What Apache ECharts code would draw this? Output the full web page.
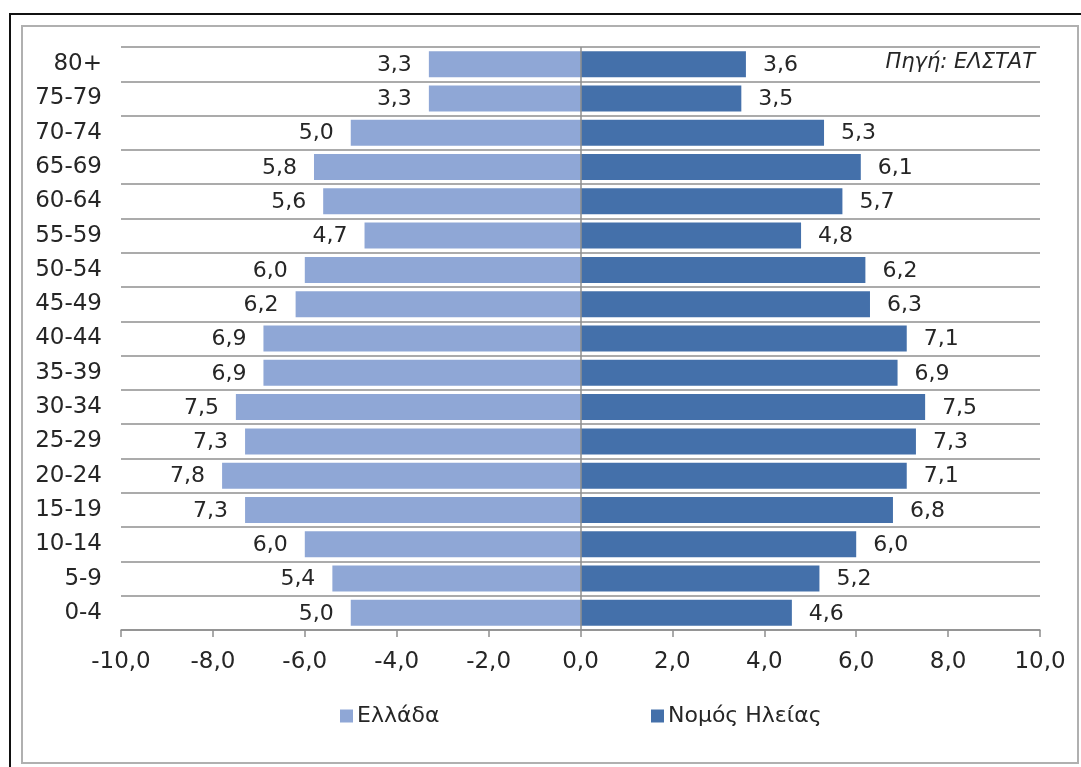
<!DOCTYPE html>
<html>
<head>
<meta charset="utf-8">
<script src="https://cdn.jsdelivr.net/npm/echarts@6/dist/echarts.min.js"></script>
<style>
html,body{margin:0;padding:0;background:#fff;}
#chart{width:1081px;height:767px;}
</style>
</head>
<body>
<div id="chart"></div>
<script>
const categories = ['0-4','5-9','10-14','15-19','20-24','25-29','30-34','35-39','40-44','45-49','50-54','55-59','60-64','65-69','70-74','75-79','80+'];
const greece = [5.0,5.4,6.0,7.3,7.8,7.3,7.5,6.9,6.9,6.2,6.0,4.7,5.6,5.8,5.0,3.3,3.3];
const ilia = [4.6,5.2,6.0,6.8,7.1,7.3,7.5,6.9,7.1,6.3,6.2,4.8,5.7,6.1,5.3,3.5,3.6];
const xTicks = [-10,-8,-6,-4,-2,0,2,4,6,8,10];
const seriesNames = ['Ελλάδα','Νομός Ηλείας'];
const sourceText = 'Πηγή: ΕΛΣΤΑΤ';

const fmt = v => Math.abs(v).toFixed(1).replace('.', ',');
const FONT = '"DejaVu Sans", Verdana, sans-serif';
const TXT = '#262626';
const GRID = '#8f8f8f';

const chart = echarts.init(document.getElementById('chart'));
chart.setOption({
  backgroundColor: '#ffffff',
  animation: false,
  textStyle: { fontFamily: FONT },
  grid: { left: 121, right: 41, top: 47, bottom: 137, containLabel: false },
  graphic: [
    { type: 'rect', shape: { x: 10, y: 14, width: 1090, height: 780 }, style: { fill: 'none', stroke: '#111', lineWidth: 2 }, silent: true },
    { type: 'rect', shape: { x: 22, y: 26, width: 1056, height: 737 }, style: { fill: 'none', stroke: '#b0b0b0', lineWidth: 2 }, silent: true },
    { type: 'text', right: 46, top: 52, style: { text: sourceText, font: 'italic 21px ' + FONT, fill: TXT }, silent: true }
  ],
  legend: [
    { data: [seriesNames[0]], left: 335, top: 700, itemWidth: 13, itemHeight: 13, itemGap: 4,
      textStyle: { fontSize: 22, color: TXT, fontFamily: FONT, padding: [0,0,0,-1] }, icon: 'rect' },
    { data: [seriesNames[1]], left: 646, top: 700, itemWidth: 13, itemHeight: 13, itemGap: 4,
      textStyle: { fontSize: 22, color: TXT, fontFamily: FONT, padding: [0,0,0,-1] }, icon: 'rect' }
  ],
  xAxis: {
    type: 'value', min: xTicks[0], max: xTicks[xTicks.length-1], interval: 2,
    axisLine: { show: true, lineStyle: { color: GRID, width: 1.5 } },
    axisTick: { show: true, length: 7, lineStyle: { color: GRID, width: 1.5 } },
    splitLine: { show: false },
    axisLabel: { formatter: v => v.toFixed(1).replace('.', ','), fontSize: 23, color: TXT, margin: 21, fontFamily: FONT }
  },
  yAxis: {
    type: 'category', data: categories,
    axisLine: { show: false }, axisTick: { show: false },
    splitLine: { show: true, lineStyle: { color: GRID, width: 1.5 } },
    axisLabel: { fontSize: 23, color: TXT, margin: 19, fontFamily: FONT }
  },
  series: [
    { name: seriesNames[0], type: 'bar', data: greece.map(v => -v), barWidth: 26, barGap: '-100%',
      itemStyle: { color: '#8fa7d6' },
      label: { show: true, position: 'left', distance: 17, offset: [0, 1], formatter: p => fmt(p.value), fontSize: 22, color: TXT, fontFamily: FONT } },
    { name: seriesNames[1], type: 'bar', data: ilia, barWidth: 26, barGap: '-100%',
      itemStyle: { color: '#4470aa' },
      label: { show: true, position: 'right', distance: 17, offset: [0, 1], formatter: p => fmt(p.value), fontSize: 22, color: TXT, fontFamily: FONT },
      markLine: { silent: true, symbol: 'none', label: { show: false }, lineStyle: { color: GRID, width: 1.5, type: 'solid' }, data: [{ xAxis: 0 }] } }
  ]
});
</script>
</body>
</html>
